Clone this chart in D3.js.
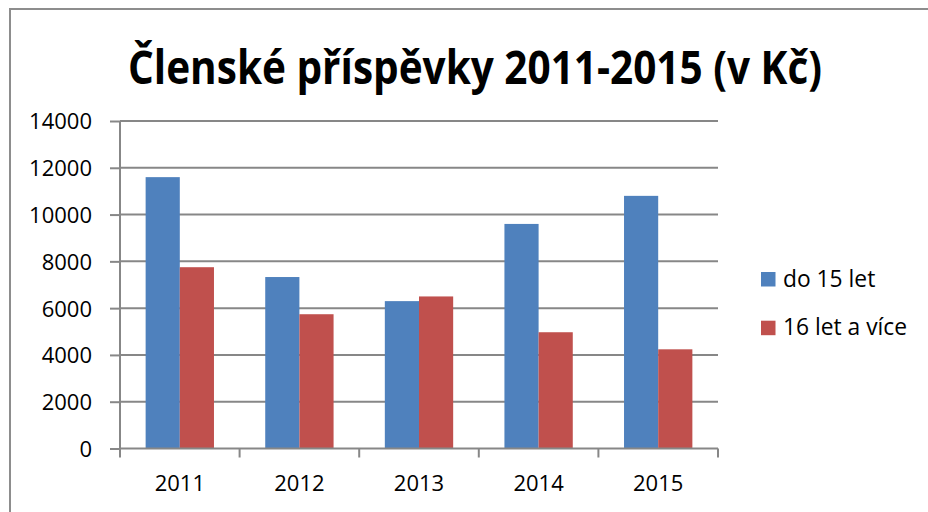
<!DOCTYPE html>
<html><head><meta charset="utf-8">
<script src="https://cdn.jsdelivr.net/npm/d3@7"></script>
<style>html,body{margin:0;padding:0;background:#fff;}svg{display:block;}</style>
</head><body>
<svg id="c" width="928" height="512"></svg>
<script>
const title = "Členské příspěvky 2011-2015 (v Kč)";
const categories = ["2011","2012","2013","2014","2015"];
const seriesNames = ["do 15 let","16 let a více"];
const seriesDo15 = [11600, 7330, 6300, 9600, 10800];
const series16 = [7750, 5740, 6500, 4970, 4240];
const yTicks = [0,2000,4000,6000,8000,10000,12000,14000];
const colors = ["#4F81BD","#C0504D"];

const svg = d3.select("#c");
const font = "'Open Sans', 'Liberation Sans', sans-serif";
const m = {left:120, right:718, top:121, bottom:448.5};

// outer border
svg.append("rect").attr("x",10).attr("y",9).attr("width",940).attr("height",540)
  .attr("fill","none").attr("stroke","#8d8d8d").attr("stroke-width",2);

// title
svg.append("text").attr("x",475).attr("y",84).attr("text-anchor","middle")
  .attr("font-family",font).attr("font-weight","bold").attr("font-size",46).attr("fill","#000")
  .attr("textLength",694).attr("lengthAdjust","spacingAndGlyphs").text(title);

const x0 = d3.scaleBand().domain(categories).range([m.left,m.right]).paddingInner(0).paddingOuter(0);
const x1 = d3.scaleBand().domain(seriesNames).range([0,x0.bandwidth()]).paddingInner(0).paddingOuter(0.75);
const y = d3.scaleLinear().domain([0,14000]).range([m.bottom,m.top]);

// gridlines
svg.append("g").selectAll("line").data(yTicks.filter(d=>d>0)).join("line")
  .attr("x1",m.left).attr("x2",m.right).attr("y1",d=>y(d)).attr("y2",d=>y(d))
  .attr("stroke","#878787").attr("stroke-width",2);

// bars
const data = categories.map((c,i)=>({c, vals:[seriesDo15[i],series16[i]]}));
svg.append("g").selectAll("g").data(data).join("g")
  .attr("transform",d=>`translate(${x0(d.c)},0)`)
  .selectAll("rect").data(d=>d.vals.map((v,j)=>({v,j}))).join("rect")
  .attr("x",d=>x1(seriesNames[d.j])).attr("width",x1.bandwidth())
  .attr("y",d=>y(d.v)).attr("height",d=>y(0)-y(d.v))
  .attr("fill",d=>colors[d.j]);

// y axis
const ya = svg.append("g").attr("transform",`translate(${m.left},0)`)
  .call(d3.axisLeft(y).tickValues(yTicks).tickSize(10).tickPadding(18).tickFormat(d3.format("d")));
ya.select(".domain").attr("stroke","#878787").attr("stroke-width",2).attr("d",`M0,${m.top}V${m.bottom}`);
ya.selectAll(".tick line").attr("stroke","#878787").attr("stroke-width",2);
ya.selectAll(".tick text").attr("font-family",font).attr("font-size",22).attr("fill","#000").attr("dy","0.36em");

// x axis
const xa = svg.append("g").attr("transform",`translate(0,${m.bottom})`)
  .call(d3.axisBottom(x0).tickSize(0).tickPadding(0));
xa.select(".domain").attr("stroke","#878787").attr("stroke-width",2).attr("d",`M${m.left},0H${m.right}`);
xa.selectAll(".tick text").attr("font-family",font).attr("font-size",22).attr("fill","#000").attr("y",42).attr("dy",0);
xa.append("g").selectAll("line").data(d3.range(categories.length+1)).join("line")
  .attr("x1",i=>m.left+i*x0.bandwidth()).attr("x2",i=>m.left+i*x0.bandwidth())
  .attr("y1",0).attr("y2",9).attr("stroke","#878787").attr("stroke-width",2);

// legend
const lg = svg.append("g").selectAll("g").data(seriesNames).join("g")
  .attr("transform",(d,i)=>`translate(761,${272+i*48.7})`);
lg.append("rect").attr("width",14.5).attr("height",14.5).attr("fill",(d,i)=>colors[i]);
lg.append("text").attr("x",22).attr("y",14.5).attr("font-family",font).attr("font-size",22.8).attr("fill","#000").text(d=>d);
</script>
</body></html>
